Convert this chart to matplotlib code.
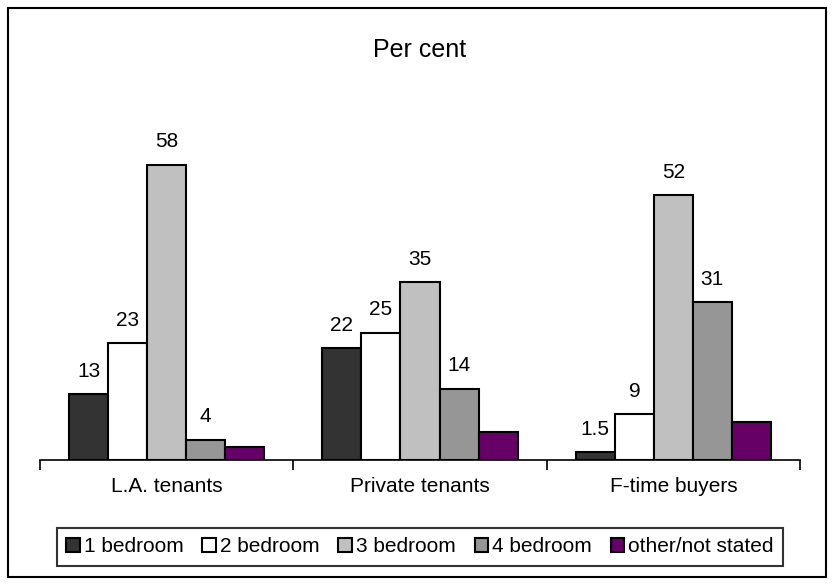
import numpy as np
import matplotlib.pyplot as plt
from matplotlib.patches import Rectangle

plt.rcParams['font.family'] = ['Liberation Sans', 'DejaVu Sans']

groups = ["L.A. tenants", "Private tenants", "F-time buyers"]
series = ["1 bedroom", "2 bedroom", "3 bedroom", "4 bedroom", "other/not stated"]
values = {
    "1 bedroom": [13, 22, 1.5],
    "2 bedroom": [23, 25, 9],
    "3 bedroom": [58, 35, 52],
    "4 bedroom": [4, 14, 31],
    "other/not stated": [2.5, 5.5, 7.5],
}
labels = {
    "1 bedroom": ["13", "22", "1.5"],
    "2 bedroom": ["23", "25", "9"],
    "3 bedroom": ["58", "35", "52"],
    "4 bedroom": ["4", "14", "31"],
    "other/not stated": ["", "", ""],
}
colors = ["#333333", "#ffffff", "#c0c0c0", "#969696", "#660066"]

fig = plt.figure(figsize=(8.33, 5.85), dpi=100)
fig.patches.append(Rectangle((8/833, 8/585), 818/833, 569/585, transform=fig.transFigure,
                             fill=False, edgecolor="black", linewidth=1.5))
ax = fig.add_axes([40/833, 125/585, 760/833, 331/585])

x = np.arange(len(groups))
w = 0.154
for i, s in enumerate(series):
    pos = x + (i - 2) * w
    ax.bar(pos, values[s], width=w, color=colors[i], edgecolor="black", linewidth=1.5,
           label=s, zorder=3)
    for px, v, t in zip(pos, values[s], labels[s]):
        if t:
            ax.text(px, v + 2.6, t, ha="center", va="bottom", fontsize=15)

ax.set_xlim(-0.5, 2.5)
ax.set_ylim(0, 65)
for sp in ["top", "left", "right"]:
    ax.spines[sp].set_visible(False)
ax.spines["bottom"].set_linewidth(1.2)
ax.set_yticks([])
ax.set_xticks([-0.5, 0.5, 1.5, 2.5])
ax.set_xticklabels([])
ax.tick_params(axis="x", direction="out", length=7, width=1.2)
for gx, g in zip(x, groups):
    ax.text(gx, -3.3, g, ha="center", va="top", fontsize=15)

fig.text(420/833, 1 - 50/585, "Per cent", ha="center", va="center", fontsize=18)

leg = fig.legend(loc="center", bbox_to_anchor=(420/833, 1 - 547/585), ncol=5, frameon=True,
                 fontsize=15, handlelength=0.65, handleheight=0.65, handletextpad=0.2,
                 columnspacing=0.9, fancybox=False, borderpad=0.45)
leg.get_frame().set_edgecolor("black")
leg.get_frame().set_linewidth(1.5)

fig.savefig("out.png", dpi=100)
